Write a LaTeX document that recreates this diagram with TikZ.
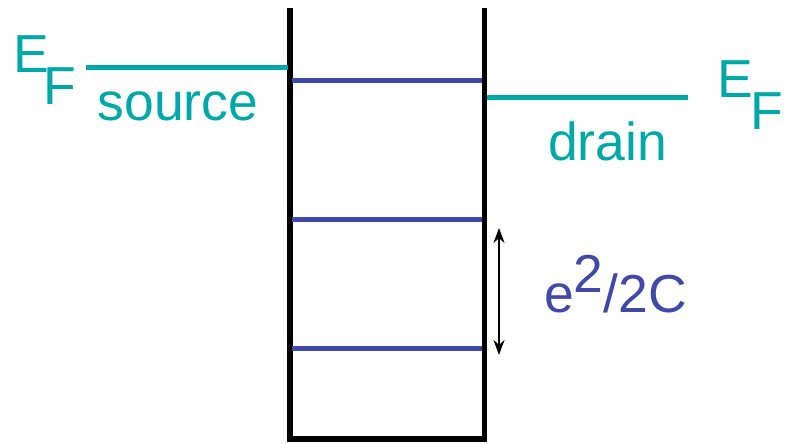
\documentclass[tikz,border=0pt]{standalone}
\usepackage{fontspec}
\setmainfont{Liberation Sans}
\usetikzlibrary{arrows.meta}
\definecolor{fermi}{RGB}{0,168,168}
\definecolor{levelblue}{RGB}{64,72,168}
\begin{document}
\begin{tikzpicture}[x=1pt,y=-1pt,
  wall/.style={draw=black, line width=5.5pt, line join=miter, line cap=butt},
  lvl/.style={draw=levelblue, line width=5pt},
  efline/.style={draw=fermi, line width=5pt},
  lbl/.style={inner sep=0pt, anchor=base west, font=\fontsize{53.5}{53.5}\selectfont},
  dim/.style={line width=2pt, {Stealth[length=15pt,width=11pt]}-{Stealth[length=15pt,width=11pt]}}]
\useasboundingbox (0,0) rectangle (790,444);
% well
\coordinate (wlt) at (290,8);
\coordinate (wlb) at (290,439);
\coordinate (wrb) at (484.5,439);
\coordinate (wrt) at (484.5,8);
\draw[wall] (wlt) -- (wlb) -- (wrb) -- (wrt);
% levels
\coordinate (l1a) at (292,81);  \coordinate (l1b) at (482,81);
\coordinate (l2a) at (292,219); \coordinate (l2b) at (482,219);
\coordinate (l3a) at (292,348); \coordinate (l3b) at (482,348);
\draw[lvl] (l1a) -- (l1b);
\draw[lvl] (l2a) -- (l2b);
\draw[lvl] (l3a) -- (l3b);
% Fermi levels
\coordinate (sa) at (86,68);  \coordinate (sb) at (288,68);
\coordinate (da) at (487,97); \coordinate (db) at (688,97);
\draw[efline] (sa) -- (sb);
\draw[efline] (da) -- (db);
% labels
\node[lbl, text=fermi] (eL) at (13,73) {E};
\node[lbl, text=fermi] (fL) at (43,104) {F};
\node[lbl, text=fermi] (src) at (97.5,120) {source};
\node[lbl, text=fermi] (eR) at (717,97) {E};
\node[lbl, text=fermi] (fR) at (750,129) {F};
\node[lbl, text=fermi] (drn) at (548,160) {drain};
\node[lbl, text=levelblue] (chg) at (544,312) {e\raisebox{20pt}{2}/2C};
% spacing arrow
\coordinate (at) at (499,228);
\coordinate (ab) at (499,355);
\draw[dim] (at) -- (ab);
\end{tikzpicture}
\end{document}
